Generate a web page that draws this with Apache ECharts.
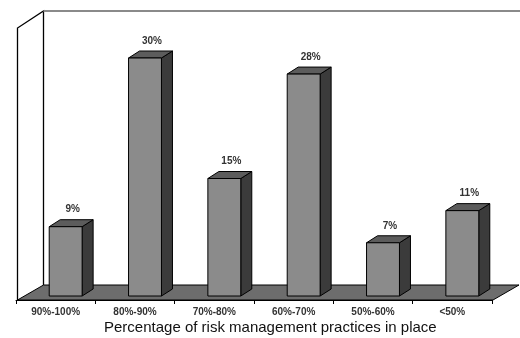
<!DOCTYPE html>
<html>
<head>
<meta charset="utf-8">
<script src="https://cdn.jsdelivr.net/npm/echarts@6/dist/echarts.min.js"></script>
<style>
  html, body { margin: 0; padding: 0; background: #fff; }
  #chart { width: 520px; height: 338px; }
</style>
</head>
<body>
<div id="chart"></div>
<script>
// Share of organisations by percentage of risk management practices in place
const categories = ['90%-100%', '80%-90%', '70%-80%', '60%-70%', '50%-60%', '<50%'];
const shares = [9, 30, 15, 28, 7, 11];
const axisTitle = 'Percentage of risk management practices in place';

const FONT = "'Liberation Sans', Arial, Helvetica, sans-serif";

// pseudo-3D projection offsets
const FLOOR_DX = 26, FLOOR_DY = -15;     // floor depth
const BAR_DX = 10, BAR_DY = -4;          // bar front plane relative to axis plane
const DEPTH_DX = 11, DEPTH_DY = -7;      // bar depth
const FLOOR_DROP = 3;                    // axis line sits a bit above value zero

const chart = echarts.init(document.getElementById('chart'), null, { renderer: 'canvas' });

function renderStage(params, api) {
  const cs = params.coordSys;
  const zero = api.coord([0, 0]);
  const fy = zero[1] - FLOOR_DROP;
  const fx0 = cs.x + 1.5;
  const fx1 = cs.x + cs.width + 1;
  const backX = fx0 + FLOOR_DX;
  const backTop = cs.y - 51;
  const frontTop = backTop + 17;
  return {
    type: 'group',
    children: [
      {
        type: 'polygon',
        shape: { points: [[fx0, fy], [fx1, fy], [fx1 + FLOOR_DX, fy + FLOOR_DY], [fx0 + FLOOR_DX, fy + FLOOR_DY]] },
        style: { fill: '#6d6d6d', stroke: '#000', lineWidth: 1 }
      },
      {
        type: 'polyline',
        shape: { points: [[fx0, fy], [fx0, frontTop], [backX, backTop], [backX, fy + FLOOR_DY]] },
        style: { fill: null, stroke: '#000', lineWidth: 1.3 }
      },
      {
        type: 'line',
        shape: { x1: backX, y1: backTop, x2: api.getWidth(), y2: backTop },
        style: { stroke: '#8a8a8a', lineWidth: 2 }
      }
    ]
  };
}

function renderBar(params, api) {
  const idx = api.value(0);
  const v = api.value(1);
  const p = api.coord([idx, v]);
  const base = api.coord([idx, 0]);
  const band = api.size([1, 0])[0];
  const w = band * 0.415;
  const x0 = p[0] + BAR_DX - w / 2;
  const x1 = x0 + w;
  const top = p[1] + BAR_DY;
  const bottom = base[1] - FLOOR_DROP + BAR_DY;
  const edge = { stroke: '#000', lineWidth: 1, lineJoin: 'round' };
  return {
    type: 'group',
    children: [
      {
        type: 'polygon',
        shape: { points: [[x1, top], [x1 + DEPTH_DX, top + DEPTH_DY], [x1 + DEPTH_DX, bottom + DEPTH_DY], [x1, bottom]] },
        style: Object.assign({ fill: '#3b3b3b' }, edge)
      },
      {
        type: 'polygon',
        shape: { points: [[x0, top], [x0 + DEPTH_DX, top + DEPTH_DY], [x1 + DEPTH_DX, top + DEPTH_DY], [x1, top]] },
        style: Object.assign({ fill: '#5c5c5c' }, edge)
      },
      {
        type: 'rect',
        shape: { x: x0, y: top, width: w, height: bottom - top },
        style: Object.assign({ fill: '#8b8b8b' }, edge)
      },
      {
        type: 'text',
        style: {
          x: (x0 + x1) / 2 + 7, y: top - 17,
          text: v + '%',
          align: 'center', verticalAlign: 'middle',
          font: 'bold 10px ' + FONT,
          fill: '#333'
        }
      }
    ]
  };
}

chart.setOption({
  animation: false,
  backgroundColor: '#fff',
  title: {
    text: axisTitle,
    left: 104, top: 320, padding: 0,
    textStyle: { fontFamily: FONT, fontSize: 15, fontWeight: 'normal', color: '#111' }
  },
  grid: { left: 16, right: 28, top: 62, bottom: 35 },
  xAxis: {
    type: 'category',
    data: categories,
    boundaryGap: true,
    offset: -FLOOR_DROP,
    axisLine: { show: true, lineStyle: { color: '#000', width: 1 } },
    axisTick: { show: true, length: 4, lineStyle: { color: '#000', width: 1 } },
    axisLabel: { margin: 7, fontFamily: FONT, fontSize: 10, fontWeight: 'bold', color: '#333' },
    splitLine: { show: false }
  },
  yAxis: { type: 'value', min: 0, max: 30, show: false, splitLine: { show: false } },
  series: [
    {
      type: 'custom',
      z: 1,
      silent: true,
      clip: false,
      renderItem: renderStage,
      data: [[0, 0]]
    },
    {
      type: 'custom',
      z: 3,
      clip: false,
      renderItem: renderBar,
      encode: { x: 0, y: 1 },
      data: shares.map((v, i) => [i, v])
    }
  ]
});
</script>
</body>
</html>
